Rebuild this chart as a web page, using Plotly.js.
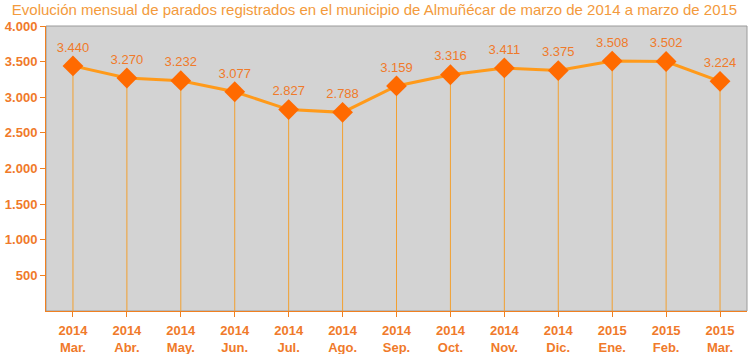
<!DOCTYPE html>
<html>
<head>
<meta charset="utf-8">
<script src="https://cdn.plot.ly/plotly-3.0.1.min.js"></script>
<style>
html,body{margin:0;padding:0;background:#fff;}
#chart{width:749px;height:354px;}
</style>
</head>
<body>
<div id="chart"></div>
<script>
var years = ["2014","2014","2014","2014","2014","2014","2014","2014","2014","2014","2015","2015","2015"];
var months = ["Mar.","Abr.","May.","Jun.","Jul.","Ago.","Sep.","Oct.","Nov.","Dic.","Ene.","Feb.","Mar."];
var parados = [3440,3270,3232,3077,2827,2788,3159,3316,3411,3375,3508,3502,3224];
var yTicks = [500,1000,1500,2000,2500,3000,3500,4000];

var idx = parados.map(function(_, i){ return i; });
var tickText = years.map(function(y, i){ return y + "<br>" + months[i]; });
var labels = parados.map(function(v){ return String(v).replace(/\B(?=(\d{3})+(?!\d))/g, "."); });

var trace = {
  x: idx,
  y: parados,
  type: "scatter",
  mode: "lines+markers+text",
  line: {color: "#FF9A1A", width: 3},
  marker: {symbol: "diamond", size: 16, color: "#FF6A00"},
  text: labels,
  textposition: "top center",
  textfont: {family: "Liberation Sans, Arial, sans-serif", size: 13, color: "#F07A2A"},
  error_y: {
    type: "data", symmetric: false,
    array: parados.map(function(){ return 0; }),
    arrayminus: parados,
    color: "#F2A030", thickness: 1, width: 0
  },
  cliponaxis: false,
  hoverinfo: "skip"
};

var layout = {
  width: 749, height: 354,
  margin: {l: 46, r: 2, t: 26, b: 43},
  paper_bgcolor: "#ffffff",
  plot_bgcolor: "#d3d3d3",
  separators: ",.",
  showlegend: false,
  title: {
    text: "Evolución mensual de parados registrados en el municipio de Almuñécar de marzo de 2014 a marzo de 2015",
    font: {family: "Liberation Sans, Arial, sans-serif", size: 15, color: "#F39A3C"},
    x: 0.5, xanchor: "center", y: 0.972, yanchor: "middle"
  },
  xaxis: {
    range: [-0.5, 12.5],
    tickvals: idx, ticktext: tickText,
    tickson: "boundaries",
    ticks: "outside", ticklen: 5, tickcolor: "#F08020", tickwidth: 1,
    ticklabelstandoff: 2,
    showline: true, linecolor: "#F08020", linewidth: 1,
    showgrid: false, zeroline: false,
    tickfont: {family: "Liberation Sans, Arial, sans-serif", size: 13, color: "#F07A2A", weight: "bold"}
  },
  yaxis: {
    range: [0, 4000],
    tickvals: yTicks,
    tickformat: ",d",
    ticks: "outside", ticklen: 5, tickcolor: "#F08020", tickwidth: 1,
    showline: true, linecolor: "#F08020", linewidth: 1,
    showgrid: false, zeroline: false,
    tickfont: {family: "Liberation Sans, Arial, sans-serif", size: 13, color: "#F07A2A", weight: "bold"}
  },
  shapes: [{
    type: "rect", xref: "paper", yref: "paper", x0: 0, x1: 1, y0: 0, y1: 1,
    line: {color: "#9a9a9a", width: 1}, layer: "below"
  }]
};

Plotly.newPlot("chart", [trace], layout, {displayModeBar: false, staticPlot: true});
</script>
</body>
</html>
